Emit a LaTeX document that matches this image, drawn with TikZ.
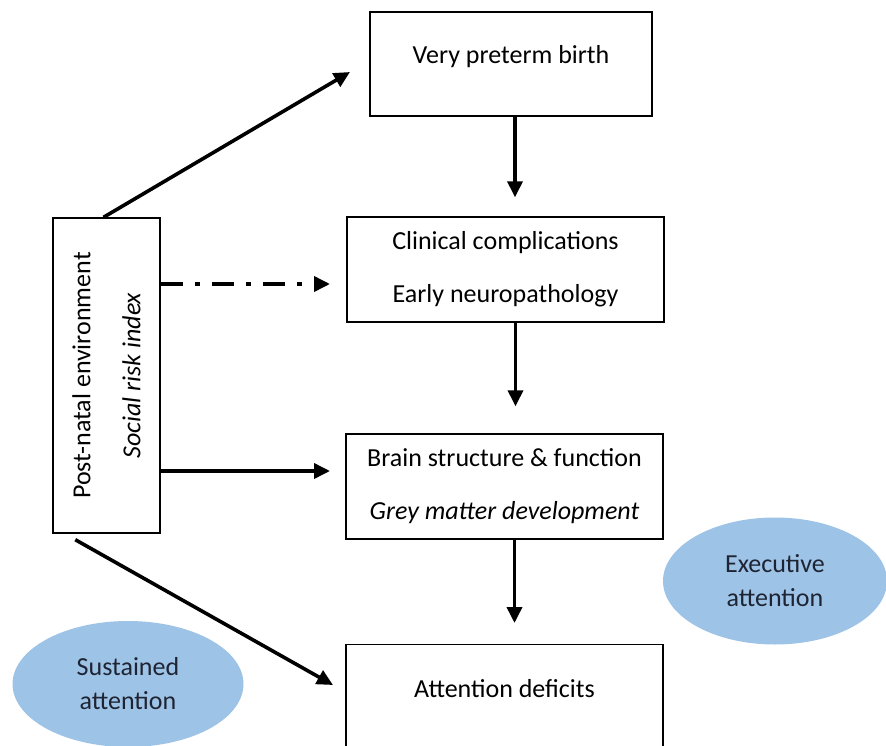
\documentclass[tikz,border=0pt]{standalone}
\usepackage{fontspec}
\setmainfont{Carlito}
\usetikzlibrary{arrows.meta,shapes.geometric}
\definecolor{bubble}{HTML}{9DC3E6}
\definecolor{bubbletext}{HTML}{1E2433}
\begin{document}
\begin{tikzpicture}[x=1pt,y=-1pt,
    box/.style={draw, line width=1.4pt, align=center, inner sep=0pt,
        font=\fontsize{26}{53}\selectfont},
    bubble/.style={ellipse, fill=bubble, text=bubbletext, align=center,
        inner sep=0pt, font=\fontsize{26}{34}\selectfont},
    link/.style={line width=3.6pt, -{Triangle[length=16pt,width=15pt]}},
    dashdot/.style={link, dash pattern=on 22pt off 12pt on 5pt off 12pt}]
    \path[use as bounding box, clip] (0,0) rectangle (886,746);
    \fill[white] (0,0) rectangle (886,746);

    \node[box, minimum width=282pt, minimum height=104pt, text depth=19pt] (birth) at (511,64) {Very preterm birth};
    \node[box, minimum width=317pt, minimum height=105pt] (clin) at (505.5,269.5) {Clinical complications\\Early neuropathology};
    \node[box, minimum width=317pt, minimum height=105pt] (brain) at (504.5,486.5) {Brain structure \& function\\\textit{Grey matter development}};
    \node[box, anchor=north, minimum width=317pt, minimum height=140pt] (att) at (504.5,644) {Attention deficits\\\mbox{}};

    \node[box, minimum width=107pt, minimum height=315pt] (env) at (106.5,375.5) {};
    \node[rotate=90, align=center, inner sep=0pt, font=\fontsize{26}{50}\selectfont] (envtext) at (env.center) {Post-natal environment\\\textit{Social risk index}};

    \node[bubble, minimum width=224pt, minimum height=127pt] (exec) at (775,581) {Executive\\attention};
    \node[bubble, minimum width=231pt, minimum height=126pt] (sust) at (128,684) {Sustained\\attention};

    \coordinate (birthTip) at (350,72);
    \coordinate (riskTip) at (330,284);
    \coordinate (brainTip) at (330,471);
    \coordinate (attTip) at (333,685);

    \draw[link, shorten >=19pt] ([xshift=4pt]birth.south) -- ([xshift=4pt]birth.south |- clin.north);
    \draw[link, shorten >=27pt] ([xshift=10pt]clin.south) -- ([xshift=10pt]clin.south |- brain.north);
    \draw[link, shorten >=21pt] ([xshift=10pt]brain.south) -- ([xshift=10pt]brain.south |- att.north);

    \draw[link] ([xshift=-3pt]env.north) -- (birthTip);
    \draw[dashdot] (env.east |- riskTip) -- (riskTip);
    \draw[link] (env.east |- brainTip) -- (brainTip);
    \draw[link] ([xshift=23pt,yshift=-6pt]env.south west) -- (attTip);
\end{tikzpicture}
\end{document}
